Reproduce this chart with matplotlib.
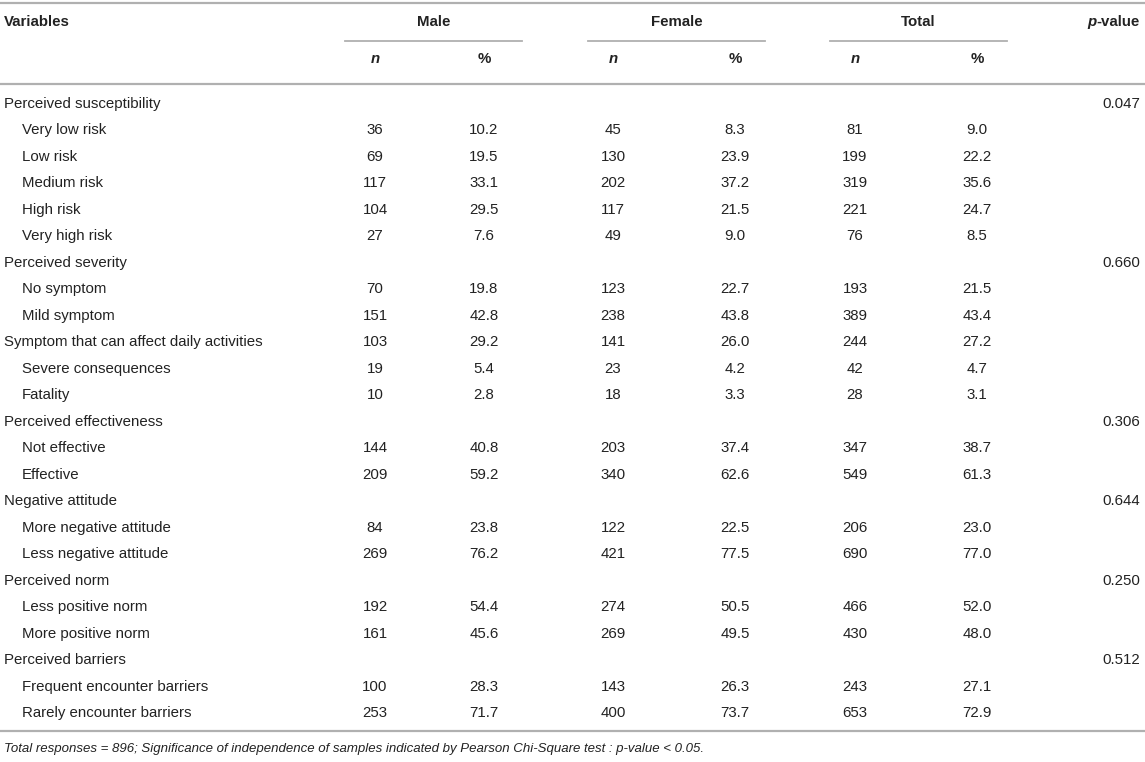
import matplotlib.pyplot as plt

# table data
labels = ['Perceived susceptibility', 'Very low risk', 'Low risk', 'Medium risk', 'High risk', 'Very high risk',
          'Perceived severity', 'No symptom', 'Mild symptom', 'Symptom that can affect daily activities',
          'Severe consequences', 'Fatality',
          'Perceived effectiveness', 'Not effective', 'Effective',
          'Negative attitude', 'More negative attitude', 'Less negative attitude',
          'Perceived norm', 'Less positive norm', 'More positive norm',
          'Perceived barriers', 'Frequent encounter barriers', 'Rarely encounter barriers']
indent = [0, 1, 1, 1, 1, 1,
          0, 1, 1, 0, 1, 1,
          0, 1, 1,
          0, 1, 1,
          0, 1, 1,
          0, 1, 1]
male_n = ['', '36', '69', '117', '104', '27', '', '70', '151', '103', '19', '10',
          '', '144', '209', '', '84', '269', '', '192', '161', '', '100', '253']
male_pct = ['', '10.2', '19.5', '33.1', '29.5', '7.6', '', '19.8', '42.8', '29.2', '5.4', '2.8',
            '', '40.8', '59.2', '', '23.8', '76.2', '', '54.4', '45.6', '', '28.3', '71.7']
female_n = ['', '45', '130', '202', '117', '49', '', '123', '238', '141', '23', '18',
            '', '203', '340', '', '122', '421', '', '274', '269', '', '143', '400']
female_pct = ['', '8.3', '23.9', '37.2', '21.5', '9.0', '', '22.7', '43.8', '26.0', '4.2', '3.3',
              '', '37.4', '62.6', '', '22.5', '77.5', '', '50.5', '49.5', '', '26.3', '73.7']
total_n = ['', '81', '199', '319', '221', '76', '', '193', '389', '244', '42', '28',
           '', '347', '549', '', '206', '690', '', '466', '430', '', '243', '653']
total_pct = ['', '9.0', '22.2', '35.6', '24.7', '8.5', '', '21.5', '43.4', '27.2', '4.7', '3.1',
             '', '38.7', '61.3', '', '23.0', '77.0', '', '52.0', '48.0', '', '27.1', '72.9']
pvals = ['0.047', '', '', '', '', '', '0.660', '', '', '', '', '',
         '0.306', '', '', '0.644', '', '', '0.250', '', '', '0.512', '', '']
groups = ['Male', 'Female', 'Total']
footnote = ('Total responses = 896; Significance of independence of samples indicated by '
            'Pearson Chi-Square test : p-value < 0.05.')

plt.rcParams['font.family'] = ['Liberation Sans', 'DejaVu Sans']
txt = '#222222'
rule = '#b0b0b0'
fs = 10.8

fig = plt.figure(figsize=(11.45, 7.62), dpi=100)
ax = fig.add_axes([0, 0, 1, 1])
ax.set_xlim(0, 1145)
ax.set_ylim(762, 0)
ax.axis('off')

# rules
ax.plot([0, 1145], [3, 3], color=rule, lw=1.6)
ax.plot([0, 1145], [84, 84], color=rule, lw=1.6)
ax.plot([0, 1145], [731, 731], color=rule, lw=1.6)

# header
ax.text(4, 22, 'Variables', fontsize=fs, fontweight='bold', color=txt, va='center')
# p-value: italic p, upright "-value"
tv = ax.text(1140, 22, '-value', fontsize=fs, fontweight='bold', color=txt, va='center', ha='right')
r = fig.canvas.get_renderer()
bb = tv.get_window_extent(renderer=r)
xleft = ax.transData.inverted().transform((bb.x0, bb.y0))[0]
ax.text(xleft, 22, 'p', fontsize=fs, fontweight='bold', style='italic', color=txt, va='center', ha='right')

group_span = [(345, 522), (588, 765), (830, 1007)]
col_x = [(375, 484), (613, 735), (855, 977)]
for g, (x0, x1), (cn, cp) in zip(groups, group_span, col_x):
    ax.text((x0 + x1) / 2, 22, g, fontsize=fs, fontweight='bold', color=txt, va='center', ha='center')
    ax.plot([x0, x1], [41, 41], color=rule, lw=1.3)
    ax.text(cn, 59, 'n', fontsize=fs, fontweight='bold', style='italic', color=txt, va='center', ha='center')
    ax.text(cp, 59, '%', fontsize=fs, fontweight='bold', color=txt, va='center', ha='center')

# body rows
y0 = 104
dy = 26.48
cols = [male_n, male_pct, female_n, female_pct, total_n, total_pct]
xs = [375, 484, 613, 735, 855, 977]
for i, lab in enumerate(labels):
    y = y0 + i * dy
    ax.text(4 + 18 * indent[i], y, lab, fontsize=fs, color=txt, va='center')
    for col, x in zip(cols, xs):
        ax.text(x, y, col[i], fontsize=fs, color=txt, va='center', ha='center')
    ax.text(1140, y, pvals[i], fontsize=fs, color=txt, va='center', ha='right')

ax.text(4, 749, footnote, fontsize=9.5, style='italic', color=txt, va='center')

fig.savefig('out.png', dpi=100)
